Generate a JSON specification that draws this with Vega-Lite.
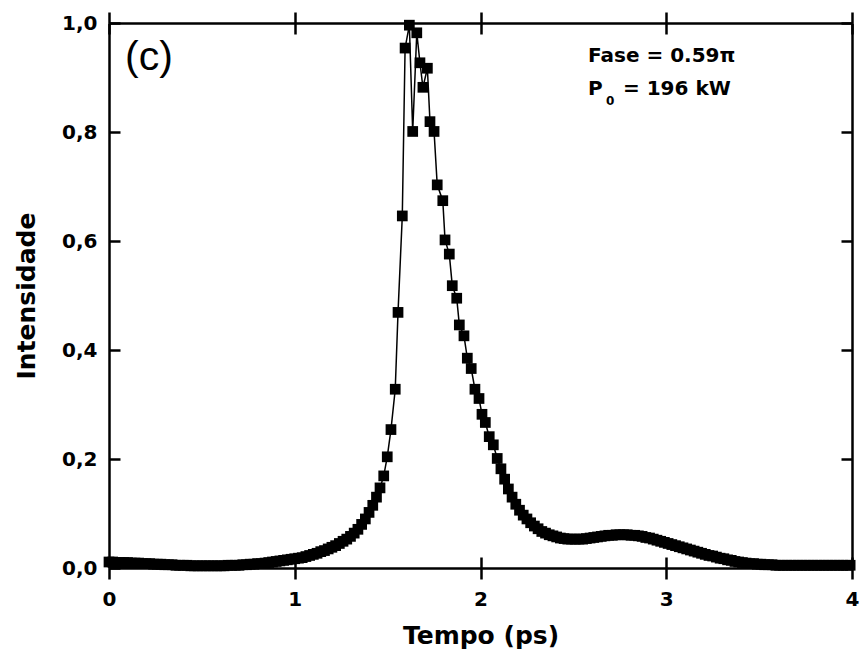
{
  "$schema": "https://vega.github.io/schema/vega-lite/v6.json",
  "width": 743,
  "height": 545,
  "autosize": "none",
  "padding": {"left": 109, "top": 23, "right": 9, "bottom": 96},
  "background": "white",
  "config": {
    "view": {"stroke": null},
    "font": "DejaVu Sans",
    "axis": {
      "grid": false,
      "labelFlush": false,
      "domainColor": "black",
      "tickColor": "black",
      "domainWidth": 2.5,
      "tickWidth": 2.5,
      "labelColor": "black",
      "titleColor": "black",
      "labelFont": "DejaVu Sans",
      "labelFontWeight": "bold",
      "labelFontSize": 20,
      "titleFont": "DejaVu Sans",
      "titleFontWeight": "bold",
      "titleFontSize": 25
    }
  },
  "datasets": {
    "main": [
      {"t":0.00,"i":0.011},{"t":0.02,"i":0.011},{"t":0.04,"i":0.010},{"t":0.06,"i":0.010},{"t":0.08,"i":0.010},
      {"t":0.10,"i":0.010},{"t":0.12,"i":0.009},{"t":0.14,"i":0.009},{"t":0.16,"i":0.009},{"t":0.18,"i":0.008},
      {"t":0.20,"i":0.008},{"t":0.22,"i":0.008},{"t":0.24,"i":0.007},{"t":0.26,"i":0.007},{"t":0.28,"i":0.007},
      {"t":0.30,"i":0.006},{"t":0.32,"i":0.006},{"t":0.34,"i":0.006},{"t":0.36,"i":0.005},{"t":0.38,"i":0.005},
      {"t":0.40,"i":0.005},{"t":0.42,"i":0.005},{"t":0.44,"i":0.004},{"t":0.46,"i":0.004},{"t":0.48,"i":0.004},
      {"t":0.50,"i":0.004},{"t":0.52,"i":0.004},{"t":0.54,"i":0.004},{"t":0.56,"i":0.004},{"t":0.58,"i":0.004},
      {"t":0.60,"i":0.004},{"t":0.62,"i":0.004},{"t":0.64,"i":0.005},{"t":0.66,"i":0.005},{"t":0.68,"i":0.005},
      {"t":0.70,"i":0.005},{"t":0.72,"i":0.006},{"t":0.74,"i":0.006},{"t":0.76,"i":0.007},{"t":0.78,"i":0.007},
      {"t":0.80,"i":0.008},{"t":0.82,"i":0.008},{"t":0.84,"i":0.009},{"t":0.86,"i":0.010},{"t":0.88,"i":0.011},
      {"t":0.90,"i":0.012},{"t":0.92,"i":0.013},{"t":0.94,"i":0.014},{"t":0.96,"i":0.015},{"t":0.98,"i":0.016},
      {"t":1.00,"i":0.017},{"t":1.02,"i":0.018},{"t":1.04,"i":0.019},{"t":1.06,"i":0.021},{"t":1.08,"i":0.023},
      {"t":1.10,"i":0.025},{"t":1.12,"i":0.027},{"t":1.14,"i":0.030},{"t":1.16,"i":0.032},{"t":1.18,"i":0.035},
      {"t":1.20,"i":0.038},{"t":1.22,"i":0.041},{"t":1.24,"i":0.045},{"t":1.26,"i":0.049},{"t":1.28,"i":0.053},
      {"t":1.30,"i":0.058},{"t":1.32,"i":0.064},{"t":1.34,"i":0.071},{"t":1.36,"i":0.080},{"t":1.38,"i":0.090},
      {"t":1.40,"i":0.102},{"t":1.42,"i":0.115},{"t":1.44,"i":0.130},{"t":1.459,"i":0.147},{"t":1.479,"i":0.169},
      {"t":1.498,"i":0.204},{"t":1.518,"i":0.254},{"t":1.541,"i":0.328},{"t":1.556,"i":0.469},{"t":1.579,"i":0.646},
      {"t":1.594,"i":0.954},{"t":1.617,"i":0.996},{"t":1.635,"i":0.801},{"t":1.657,"i":0.982},{"t":1.674,"i":0.927},
      {"t":1.690,"i":0.882},{"t":1.714,"i":0.917},{"t":1.728,"i":0.819},{"t":1.750,"i":0.801},{"t":1.767,"i":0.703},
      {"t":1.797,"i":0.674},{"t":1.809,"i":0.602},{"t":1.832,"i":0.576},{"t":1.848,"i":0.518},{"t":1.872,"i":0.495},
      {"t":1.886,"i":0.446},{"t":1.911,"i":0.426},{"t":1.929,"i":0.385},{"t":1.950,"i":0.366},{"t":1.970,"i":0.328},
      {"t":1.992,"i":0.311},{"t":2.008,"i":0.282},{"t":2.026,"i":0.267},{"t":2.047,"i":0.241},{"t":2.069,"i":0.226},
      {"t":2.090,"i":0.201},{"t":2.11,"i":0.182},{"t":2.13,"i":0.163},{"t":2.15,"i":0.145},{"t":2.17,"i":0.130},
      {"t":2.19,"i":0.117},{"t":2.21,"i":0.106},{"t":2.23,"i":0.097},{"t":2.25,"i":0.090},{"t":2.27,"i":0.083},
      {"t":2.29,"i":0.077},{"t":2.31,"i":0.072},{"t":2.33,"i":0.067},{"t":2.35,"i":0.064},{"t":2.37,"i":0.061},
      {"t":2.39,"i":0.059},{"t":2.41,"i":0.057},{"t":2.43,"i":0.055},{"t":2.45,"i":0.054},{"t":2.47,"i":0.053},
      {"t":2.49,"i":0.053},{"t":2.51,"i":0.053},{"t":2.53,"i":0.053},{"t":2.55,"i":0.053},{"t":2.57,"i":0.054},
      {"t":2.59,"i":0.055},{"t":2.61,"i":0.056},{"t":2.63,"i":0.057},{"t":2.65,"i":0.058},{"t":2.67,"i":0.059},
      {"t":2.69,"i":0.060},{"t":2.71,"i":0.060},{"t":2.73,"i":0.061},{"t":2.75,"i":0.061},{"t":2.77,"i":0.061},
      {"t":2.79,"i":0.061},{"t":2.81,"i":0.060},{"t":2.83,"i":0.060},{"t":2.85,"i":0.059},{"t":2.87,"i":0.058},
      {"t":2.89,"i":0.056},{"t":2.91,"i":0.055},{"t":2.93,"i":0.053},{"t":2.95,"i":0.051},{"t":2.97,"i":0.049},
      {"t":2.99,"i":0.047},{"t":3.01,"i":0.045},{"t":3.03,"i":0.043},{"t":3.05,"i":0.041},{"t":3.07,"i":0.039},
      {"t":3.09,"i":0.037},{"t":3.11,"i":0.035},{"t":3.13,"i":0.033},{"t":3.15,"i":0.031},{"t":3.17,"i":0.029},
      {"t":3.19,"i":0.027},{"t":3.21,"i":0.025},{"t":3.23,"i":0.023},{"t":3.25,"i":0.022},{"t":3.27,"i":0.020},
      {"t":3.29,"i":0.018},{"t":3.31,"i":0.017},{"t":3.33,"i":0.015},{"t":3.35,"i":0.014},{"t":3.37,"i":0.012},
      {"t":3.39,"i":0.011},{"t":3.41,"i":0.010},{"t":3.43,"i":0.009},{"t":3.45,"i":0.008},{"t":3.47,"i":0.008},
      {"t":3.49,"i":0.007},{"t":3.51,"i":0.007},{"t":3.53,"i":0.006},{"t":3.55,"i":0.006},{"t":3.57,"i":0.006},
      {"t":3.59,"i":0.005},{"t":3.61,"i":0.005},{"t":3.63,"i":0.005},{"t":3.65,"i":0.005},{"t":3.67,"i":0.005},
      {"t":3.69,"i":0.005},{"t":3.71,"i":0.005},{"t":3.73,"i":0.005},{"t":3.75,"i":0.005},{"t":3.77,"i":0.005},
      {"t":3.79,"i":0.005},{"t":3.81,"i":0.005},{"t":3.83,"i":0.005},{"t":3.85,"i":0.005},{"t":3.87,"i":0.005},
      {"t":3.89,"i":0.005},{"t":3.91,"i":0.005},{"t":3.93,"i":0.005},{"t":3.95,"i":0.005},{"t":3.97,"i":0.005},
      {"t":3.99,"i":0.005}
    ]
  },
  "resolve": {"axis": {"x": "independent", "y": "independent"}},
  "layer": [
    {
      "data": {"name": "main"},
      "mark": {"type": "line", "color": "black", "strokeWidth": 1.5},
      "encoding": {
        "x": {"field": "t", "type": "quantitative", "scale": {"domain": [0, 4], "nice": false},
          "axis": {"orient": "bottom", "values": [0, 1, 2, 3, 4], "format": "d", "tickSize": 11, "labelPadding": 10, "title": "Tempo (ps)", "titlePadding": 14}},
        "y": {"field": "i", "type": "quantitative", "scale": {"domain": [0, 1], "nice": false},
          "axis": {"orient": "left", "values": [0, 0.2, 0.4, 0.6, 0.8, 1.0], "labelExpr": "replace(format(datum.value, '.1f'), '.', ',')", "ticks": false, "labelPadding": 12, "title": "Intensidade", "titlePadding": 22}}
      }
    },
    {
      "data": {"name": "main"},
      "mark": {"type": "point", "shape": "square", "filled": true, "color": "black", "size": 115, "opacity": 1},
      "encoding": {
        "x": {"field": "t", "type": "quantitative",
          "axis": {"orient": "bottom", "values": [0, 1, 2, 3, 4], "offset": -11, "tickSize": 11, "labels": false, "domain": false, "title": null}},
        "y": {"field": "i", "type": "quantitative",
          "axis": {"orient": "left", "values": [0, 0.2, 0.4, 0.6, 0.8, 1.0], "offset": -11, "tickSize": 11, "labels": false, "domain": false, "title": null}}
      }
    },
    {
      "data": {"values": [{"t": 0.086, "i": 0.914, "label": "(c)"}]},
      "mark": {"type": "text", "font": "Liberation Sans", "fontSize": 41, "align": "left", "baseline": "alphabetic", "color": "black"},
      "encoding": {
        "x": {"field": "t", "type": "quantitative",
          "axis": {"orient": "top", "values": [0, 1, 2, 3, 4], "tickSize": 11, "labels": false, "title": null}},
        "y": {"field": "i", "type": "quantitative",
          "axis": {"orient": "right", "values": [0, 0.2, 0.4, 0.6, 0.8, 1.0], "offset": -11, "tickSize": 11, "labels": false, "domain": false, "title": null}},
        "text": {"field": "label"}
      }
    },
    {
      "data": {"values": [{"t": 2.579, "i": 0.929, "label": "Fase = 0.59π"}]},
      "mark": {"type": "text", "font": "DejaVu Sans", "fontWeight": "bold", "fontSize": 20, "align": "left", "baseline": "alphabetic", "color": "black"},
      "encoding": {
        "x": {"field": "t", "type": "quantitative",
          "axis": {"orient": "top", "values": [0, 1, 2, 3, 4], "offset": -11, "tickSize": 11, "labels": false, "domain": false, "title": null}},
        "y": {"field": "i", "type": "quantitative",
          "axis": {"orient": "right", "values": [0, 0.2, 0.4, 0.6, 0.8, 1.0], "tickSize": 0, "labels": false, "domain": true, "title": null}},
        "text": {"field": "label"}
      }
    },
    {
      "data": {"values": [{"t": 2.579, "i": 0.868, "label": "P"}, {"t": 2.767, "i": 0.868, "label": "= 196 kW"}]},
      "mark": {"type": "text", "font": "DejaVu Sans", "fontWeight": "bold", "fontSize": 20, "align": "left", "baseline": "alphabetic", "color": "black"},
      "encoding": {
        "x": {"field": "t", "type": "quantitative", "axis": null},
        "y": {"field": "i", "type": "quantitative", "axis": null},
        "text": {"field": "label"}
      }
    },
    {
      "data": {"values": [{"t": 2.676, "i": 0.850, "label": "0"}]},
      "mark": {"type": "text", "font": "DejaVu Sans", "fontWeight": "bold", "fontSize": 12, "align": "left", "baseline": "alphabetic", "color": "black"},
      "encoding": {
        "x": {"field": "t", "type": "quantitative", "axis": null},
        "y": {"field": "i", "type": "quantitative", "axis": null},
        "text": {"field": "label"}
      }
    }
  ]
}
